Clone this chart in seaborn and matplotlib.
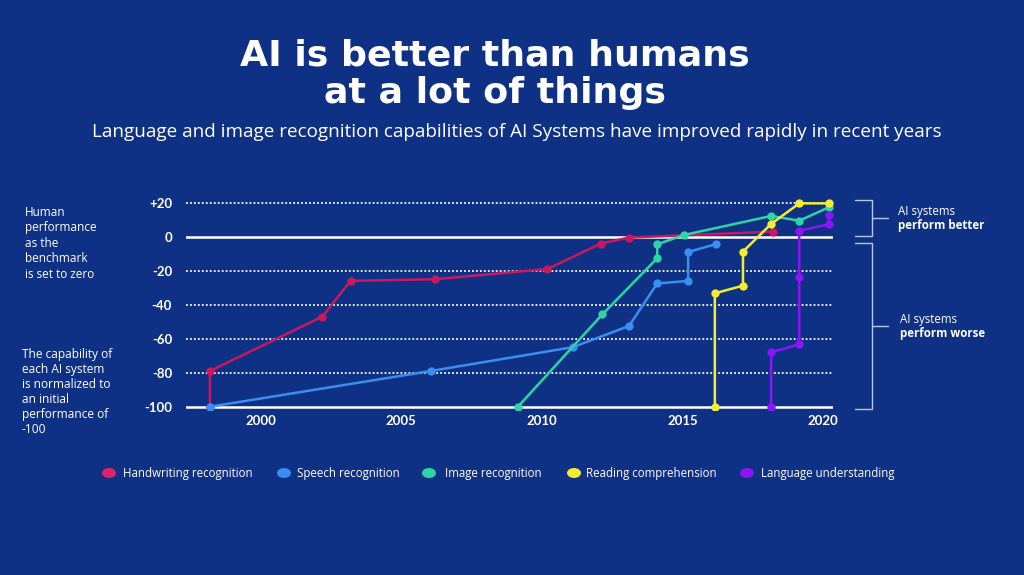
import numpy as np
import pandas as pd
import matplotlib
matplotlib.use("Agg")
import matplotlib.pyplot as plt
from matplotlib.patches import Ellipse
import seaborn as sns

# ---- data ----
series_names = ["Handwriting recognition", "Speech recognition", "Image recognition",
                "Reading comprehension", "Language understanding"]
hand_x = [1998.2, 1998.2, 2002.2, 2003.2, 2006.2, 2010.2, 2012.1, 2013.1, 2018.2]
hand_y = [-100, -79, -47, -26, -25, -19, -4, -0.5, 3]
speech_x = [1998.2, 2006.05, 2011.1, 2013.1, 2014.1, 2015.2, 2015.2, 2016.2]
speech_y = [-100, -79, -65, -52.5, -27.5, -26, -9, -4.3]
image_x = [2009.15, 2012.15, 2014.1, 2014.1, 2015.05, 2018.15, 2019.15, 2020.2]
image_y = [-100, -45.7, -12.7, -4.5, 1, 12.2, 9.4, 17.3]
reading_x = [2016.15, 2016.15, 2017.15, 2017.15, 2018.15, 2019.15, 2020.2]
reading_y = [-100, -33.3, -28.8, -8.8, 7.5, 19.6, 19.6]
lang_x = [2018.15, 2018.15, 2019.15, 2019.15, 2019.15, 2020.2, 2020.2]
lang_y = [-100, -68, -63.3, -23.5, 3.5, 7.3, 12.8]
y_ticks = [20, 0, -20, -40, -60, -80, -100]
y_tick_labels = ["+20", "0", "-20", "-40", "-60", "-80", "-100"]
x_ticks = [2000, 2005, 2010, 2015, 2020]
colors = ["#c8185e", "#3a8ef0", "#2fd4a4", "#f4ec2f", "#8b16f5"]

frames = []
for name, xs, ys in zip(series_names,
                        [hand_x, speech_x, image_x, reading_x, lang_x],
                        [hand_y, speech_y, image_y, reading_y, lang_y]):
    frames.append(pd.DataFrame({"year": xs, "value": ys, "series": name,
                                "order": range(len(xs))}))
df = pd.concat(frames, ignore_index=True)

BG = "#0f3185"
sns.set_theme(style="dark")
plt.rcParams["font.family"] = ["Open Sans", "DejaVu Sans"]

fig = plt.figure(figsize=(10.24, 5.75), dpi=100, facecolor=BG)
# axes: x 186..833 px, y 199.3..410.1 px
ax = fig.add_axes([186 / 1024, 1 - 410.1 / 575, (833 - 186) / 1024, (410.1 - 199.3) / 575])
ax.set_facecolor(BG)
ax.set_xlim(1997.35, 2020.35)
ax.set_ylim(-102, 22)

for v in [20, -20, -40, -60, -80]:
    ax.axhline(v, color="white", lw=1.3, ls=(0, (1, 1.2)), zorder=1)
for v in [0, -100]:
    ax.axhline(v, color="white", lw=1.8, zorder=1)

sns.lineplot(data=df, x="year", y="value", hue="series", hue_order=series_names,
             palette=colors, sort=False, estimator=None, units="series",
             marker="o", markersize=6, markeredgewidth=0, linewidth=1.8,
             legend=False, ax=ax, zorder=3)

for s in ax.spines.values():
    s.set_visible(False)
ax.grid(False)
ax.set_xlabel("")
ax.set_ylabel("")
ax.set_yticks(y_ticks)
ax.set_yticklabels(y_tick_labels)
ax.set_xticks(x_ticks)
ax.tick_params(axis="both", length=0, colors="white", labelsize=9.5)
ax.tick_params(axis="y", pad=10)
ax.tick_params(axis="x", pad=3.5)
for lab in ax.get_xticklabels() + ax.get_yticklabels():
    lab.set_fontweight("bold")
    lab.set_family(["Lato", "DejaVu Sans"])

def fx(px):
    return px / 1024

def fy(py):
    return 1 - py / 575

# title
fig.text(fx(495), fy(56), "AI is better than humans", ha="center", va="center",
         color="white", fontsize=26.2, fontweight="bold", family=["DejaVu Sans"])
fig.text(fx(495), fy(93), "at a lot of things", ha="center", va="center",
         color="white", fontsize=26.2, fontweight="bold", family=["DejaVu Sans"])
fig.text(fx(517), fy(132), "Language and image recognition capabilities of AI Systems have improved rapidly in recent years",
         ha="center", va="center", color="white", fontsize=13.6)

# left notes
fig.text(fx(25), fy(206), "Human\nperformance\nas the\nbenchmark\nis set to zero",
         ha="left", va="top", color="white", fontsize=8.5, linespacing=1.25)
fig.text(fx(22), fy(348), "The capability of\neach AI system\nis normalized to\nan initial\nperformance of\n-100",
         ha="left", va="top", color="white", fontsize=8.6, linespacing=1.2)

# right brackets
bc = "#b9c6ea"
def bracket(top, bot):
    mid = (top + bot) / 2
    fig.add_artist(plt.Line2D([fx(855), fx(872), fx(872), fx(855)],
                              [fy(top), fy(top), fy(bot), fy(bot)], color=bc, lw=1))
    fig.add_artist(plt.Line2D([fx(872), fx(888)], [fy(mid), fy(mid)], color=bc, lw=1))
bracket(200, 236)
bracket(243, 409)
fig.text(fx(898), fy(211), "AI systems", ha="left", va="center", color="white", fontsize=8.3)
fig.text(fx(898), fy(225), "perform better", ha="left", va="center", color="white",
         fontsize=8.3, fontweight="bold")
fig.text(fx(900), fy(320), "AI systems", ha="left", va="center", color="white", fontsize=8.3)
fig.text(fx(900), fy(333), "perform worse", ha="left", va="center", color="white",
         fontsize=8.3, fontweight="bold")

# legend
leg_dot_x = [109, 284, 429, 574, 747]
leg_txt_x = [123, 297, 445, 586, 761]
leg_colors = ["#e0226c", "#3a8ef0", "#2fd4a4", "#f4ec2f", "#8b16f5"]
for name, c, dx, tx in zip(series_names, leg_colors, leg_dot_x, leg_txt_x):
    fig.add_artist(Ellipse((fx(dx), fy(473)), 14 / 1024, 10 / 575,
                           transform=fig.transFigure, color=c, lw=0))
    fig.text(fx(tx), fy(473), name, ha="left", va="center", color="white", fontsize=8.3)

fig.savefig("out.png", dpi=100, facecolor=BG)
